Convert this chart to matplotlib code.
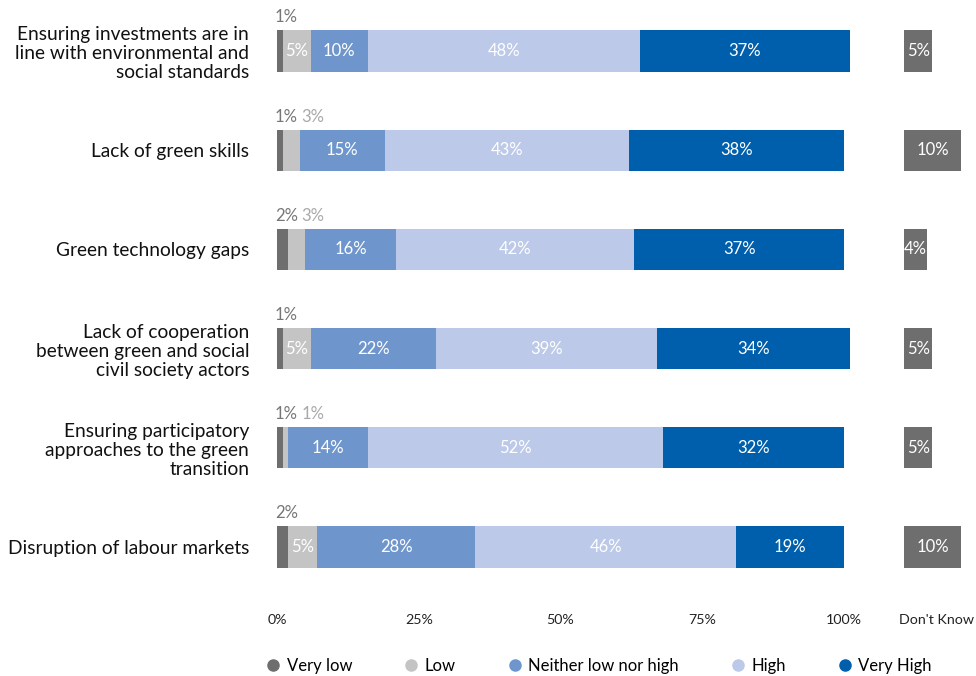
import matplotlib
matplotlib.use("Agg")
import matplotlib.pyplot as plt
import numpy as np
from matplotlib.lines import Line2D

plt.rcParams['font.family'] = ['Lato', 'DejaVu Sans']

categories = [
    "Ensuring investments are in\nline with environmental and\nsocial standards",
    "Lack of green skills",
    "Green technology gaps",
    "Lack of cooperation\nbetween green and social\ncivil society actors",
    "Ensuring participatory\napproaches to the green\ntransition",
    "Disruption of labour markets",
]
levels = ["Very low", "Low", "Neither low nor high", "High", "Very High"]
very_low = [1, 1, 2, 1, 1, 2]
low = [5, 3, 3, 5, 1, 5]
neither = [10, 15, 16, 22, 14, 28]
high = [48, 43, 42, 39, 52, 46]
very_high = [37, 38, 37, 34, 32, 19]
dont_know = [5, 10, 4, 5, 5, 10]
tick_values = [0, 25, 50, 75, 100]
tick_labels = ["0%", "25%", "50%", "75%", "100%"]

colors = ["#6e6e6e", "#c4c4c4", "#6f96cc", "#bcc9e8", "#005fac"]
dk_color = "#6e6e6e"
dk_start = 110.6

fig = plt.figure(figsize=(9.76, 6.76), dpi=100)
W, H = 976, 676
ax = fig.add_axes([277 / W, 1 - 600 / H, (976 - 277) / W, 590 / H])

series = [very_low, low, neither, high, very_high]
y = np.arange(len(categories))
bar_h = 0.415
left = np.zeros(len(categories))
for vals, col, name in zip(series, colors, levels):
    vals = np.array(vals, dtype=float)
    ax.barh(y, vals, left=left, height=bar_h, color=col, label=name, linewidth=0)
    for i, v in enumerate(vals):
        if name == "Very low":
            ax.text(-0.4, y[i] - bar_h / 2 - 0.05, f"{int(v)}%", ha="left", va="bottom",
                    fontsize=12, color="#767676")
        elif name == "Low" and v <= 3:
            ax.text(4.3, y[i] - bar_h / 2 - 0.05, f"{int(v)}%", ha="left", va="bottom",
                    fontsize=12, color="#a9a9a9")
        else:
            ax.text(left[i] + v / 2, y[i], f"{int(v)}%", ha="center", va="center",
                    fontsize=12, color="white")
    left += vals

ax.barh(y, dont_know, left=dk_start, height=bar_h, color=dk_color, linewidth=0)
for i, v in enumerate(dont_know):
    ax.text(dk_start + v / 2, y[i], f"{v}%", ha="center", va="center",
            fontsize=12, color="white")

ax.set_xlim(0, (976 - 277) / 5.67)
ax.set_ylim((600 - 51) / 99.2, -(51 - 10) / 99.2)
ax.set_yticks(y)
ax.set_yticklabels(categories, fontsize=13.8, linespacing=1.15, color="#111111")
ax.set_xticks(tick_values + [116.3])
ax.set_xticklabels(tick_labels + ["Don't Know"], fontsize=10.3, color="#222222")
ax.tick_params(axis="both", length=0)
ax.tick_params(axis="x", pad=10)
ax.tick_params(axis="y", pad=20)
for s in ax.spines.values():
    s.set_visible(False)

handles = [Line2D([], [], marker="o", linestyle="none", markersize=8,
                  markerfacecolor=c, markeredgecolor=c) for c in colors]
fig.legend(handles, levels, loc="center left", bbox_to_anchor=(265 / W, 1 - 666 / H),
           ncol=5, frameon=False, fontsize=12, handletextpad=0.3,
           columnspacing=3.05, handlelength=1.0, borderaxespad=0, borderpad=0)

fig.savefig("out.png", dpi=100)
